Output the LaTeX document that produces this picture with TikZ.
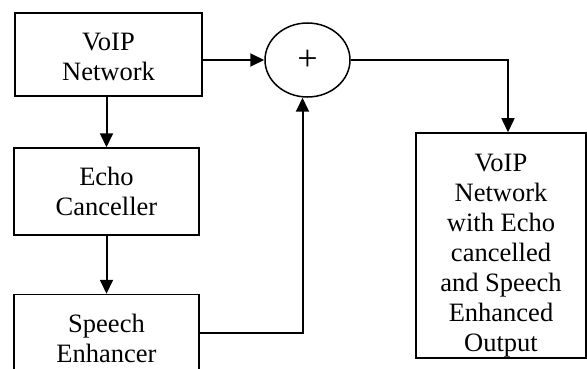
\documentclass[tikz,border=0pt]{standalone}
\usepackage{fontspec}
\setmainfont{Liberation Serif}
\usetikzlibrary{arrows.meta,shapes.geometric}
\tikzset{
  txt/.style={align=center, inner sep=0pt, font=\fontsize{26.5}{30}\selectfont},
  blk/.style={draw, line width=1.5pt, txt},
  arr/.style={-{Triangle[length=14pt,width=13pt]}, line width=2pt},
}
\begin{document}
\begin{tikzpicture}[x=1pt,y=-1pt]
\useasboundingbox (0,0) rectangle (587,369);
\clip (0,0) rectangle (587,369);
\node[blk, minimum width=187pt, minimum height=83pt] (voip) at (108.5,54.5) {};
\node[txt] (voiptxt) at (108.5,57) {VoIP\\Network};
\node[blk, minimum width=185pt, minimum height=87pt] (echo) at (106.5,191.5) {Echo\\Canceller};
\node[blk, minimum width=185pt, minimum height=87pt] (speech) at (106.5,338) {Speech\\Enhancer};
\node[blk, ellipse, minimum width=85pt, minimum height=74pt, font=\fontsize{36}{36}\selectfont] (sum) at (307.5,60) {+};
\node[blk, minimum width=170pt, minimum height=225pt] (out) at (501,245.5) {};
\node[txt] (outtxt) at (501,256) {VoIP\\Network\\with Echo\\cancelled\\and Speech\\Enhanced\\Output};
\draw[arr] (voip.east |- sum.west) -- (sum.west);
\draw[arr] (echo.north |- voip.south) -- (echo.north);
\draw[arr] (echo.south) -- (speech.north);
\draw[arr] (speech.east |- 0,333) -| ([xshift=-5pt]sum.south);
\draw[arr, line width=1.5pt] (sum.east) -| ([xshift=7pt]out.north);
\end{tikzpicture}
\end{document}
